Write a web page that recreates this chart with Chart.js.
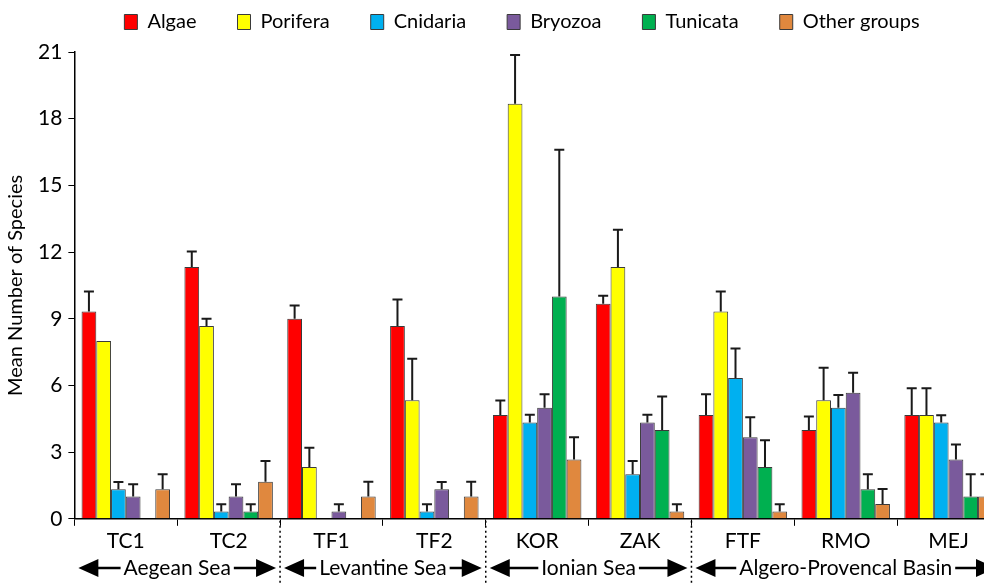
<!DOCTYPE html>
<html>
<head>
<meta charset="utf-8">
<script src="https://cdn.jsdelivr.net/npm/chart.js@4.4.0/dist/chart.umd.min.js"></script>
<style>
  html, body { margin: 0; padding: 0; background: #fff; overflow: hidden; }
  #wrap { width: 1000px; height: 583px; position: relative; }
</style>
</head>
<body>
<div id="wrap"><canvas id="chart"></canvas></div>
<script>
// sites along the x axis
const sites = ['TC1', 'TC2', 'TF1', 'TF2', 'KOR', 'ZAK', 'FTF', 'RMO', 'MEJ'];

// mean number of species per group
const algae    = [9.33, 11.33, 9.0, 8.67, 4.67, 9.67, 4.67, 4.0, 4.67];
const porifera = [8.0, 8.67, 2.33, 5.33, 18.67, 11.33, 9.33, 5.33, 4.67];
const cnidaria = [1.33, 0.33, 0, 0.33, 4.33, 2.0, 6.33, 5.0, 4.33];
const bryozoa  = [1.0, 1.0, 0.33, 1.33, 5.0, 4.33, 3.67, 5.67, 2.67];
const tunicata = [0, 0.33, 0, 0, 10.0, 4.0, 2.33, 1.33, 1.0];
const others   = [1.33, 1.67, 1.0, 1.0, 2.67, 0.33, 0.33, 0.67, 1.0];

// standard errors (upper bars only)
const algaeErr    = [0.9, 0.7, 0.6, 1.2, 0.65, 0.37, 0.93, 0.6, 1.2];
const poriferaErr = [0, 0.33, 0.87, 1.87, 2.2, 1.67, 0.9, 1.47, 1.2];
const cnidariaErr = [0.33, 0.33, 0, 0.33, 0.35, 0.6, 1.33, 0.57, 0.33];
const bryozoaErr  = [0.55, 0.55, 0.33, 0.33, 0.6, 0.35, 0.9, 0.9, 0.67];
const tunicataErr = [0, 0.33, 0, 0, 6.6, 1.5, 1.2, 0.67, 1.0];
const othersErr   = [0.67, 0.93, 0.67, 0.67, 1.0, 0.33, 0.33, 0.67, 1.0];

// y axis ticks
const yTicks = [0, 3, 6, 9, 12, 15, 18, 21];

// sea regions (first and last site index of each)
const regionNames = ['Aegean Sea', 'Levantine Sea', 'Ionian Sea', 'Algero-Provencal Basin'];
const regionFrom  = [0, 2, 4, 6];
const regionTo    = [1, 3, 5, 8];

const FONT = "'Lato', sans-serif";

const groups = [
    { label: 'Algae', data: algae, err: algaeErr, color: '#ff0000' },
    { label: 'Porifera', data: porifera, err: poriferaErr, color: '#ffff00' },
    { label: 'Cnidaria', data: cnidaria, err: cnidariaErr, color: '#00b0f0' },
    { label: 'Bryozoa', data: bryozoa, err: bryozoaErr, color: '#7a5a9c' },
    { label: 'Tunicata', data: tunicata, err: tunicataErr, color: '#00b050' },
    { label: 'Other groups', data: others, err: othersErr, color: '#e0883e' }
];

// upper error bars
const errorBars = {
    id: 'errorBars',
    afterDatasetsDraw(chart) {
        const ctx = chart.ctx;
        const y = chart.scales.y;
        ctx.save();
        ctx.strokeStyle = '#1a1a1a';
        ctx.lineWidth = 2;
        chart.data.datasets.forEach((ds, i) => {
            const meta = chart.getDatasetMeta(i);
            meta.data.forEach((bar, j) => {
                const e = ds.err[j];
                if (!e) return;
                const top = y.getPixelForValue(ds.data[j] + e);
                ctx.beginPath();
                ctx.moveTo(bar.x, bar.y);
                ctx.lineTo(bar.x, top);
                ctx.moveTo(bar.x - 5, top);
                ctx.lineTo(bar.x + 5, top);
                ctx.stroke();
            });
        });
        ctx.restore();
    }
};

// region labels with arrows and dotted separators
const regions = {
    id: 'regions',
    afterDraw(chart) {
        const ctx = chart.ctx;
        const x = chart.scales.x;
        const half = (x.getPixelForValue(1) - x.getPixelForValue(0)) / 2;
        const yBase = chart.chartArea.bottom;
        const yText = 568;
        ctx.save();
        ctx.font = '21px ' + FONT;
        ctx.textAlign = 'center';
        ctx.textBaseline = 'middle';
        ctx.fillStyle = '#000';
        ctx.strokeStyle = '#000';

        // dotted separators
        ctx.lineWidth = 1.5;
        ctx.setLineDash([2, 3]);
        for (let r = 1; r < regionNames.length; r++) {
            const sx = x.getPixelForValue(regionFrom[r]) - half;
            ctx.beginPath();
            ctx.moveTo(sx, yBase + 2);
            ctx.lineTo(sx, chart.height);
            ctx.stroke();
        }
        ctx.setLineDash([]);

        regionNames.forEach((name, r) => {
            const left = x.getPixelForValue(regionFrom[r]) - half + 4;
            const right = x.getPixelForValue(regionTo[r]) + half - 4;
            const cx = (left + right) / 2;
            const w = ctx.measureText(name).width;
            ctx.fillText(name, cx, yText);
            ctx.lineWidth = 2.5;
            ctx.beginPath();
            ctx.moveTo(left + 10, yText);
            ctx.lineTo(cx - w / 2 - 3, yText);
            ctx.moveTo(cx + w / 2 + 3, yText);
            ctx.lineTo(right - 10, yText);
            ctx.stroke();
            // arrow heads
            ctx.beginPath();
            ctx.moveTo(left, yText);
            ctx.lineTo(left + 20, yText - 9);
            ctx.lineTo(left + 20, yText + 9);
            ctx.closePath();
            ctx.moveTo(right, yText);
            ctx.lineTo(right - 20, yText - 9);
            ctx.lineTo(right - 20, yText + 9);
            ctx.closePath();
            ctx.fill();
        });
        ctx.restore();
    }
};

// nudge the legend, as in the original figure
const legendShift = {
    id: 'legendShift',
    afterLayout(chart) {
        const lg = chart.legend;
        lg.left += 22;
        lg.right += 22;
        lg.top -= 10;
        lg.bottom -= 10;
    }
};

new Chart(document.getElementById('chart'), {
    type: 'bar',
    data: {
        labels: sites,
        datasets: groups.map(g => ({
            label: g.label,
            data: g.data,
            err: g.err,
            backgroundColor: g.color,
            borderColor: '#3a3a3a',
            borderWidth: 1,
            categoryPercentage: 0.86,
            barPercentage: 1.0
        }))
    },
    options: {
        responsive: true,
        maintainAspectRatio: false,
        animation: false,
        layout: { padding: { left: 0, right: 0, top: -19, bottom: 26 } },
        plugins: {
            legend: {
                position: 'top',
                labels: {
                    color: '#000',
                    font: { family: FONT, size: 20 },
                    boxWidth: 13,
                    boxHeight: 15,
                    padding: 41
                }
            },
            tooltip: { enabled: false }
        },
        scales: {
            x: {
                offset: true,
                grid: { drawOnChartArea: false, tickLength: 7, color: '#000', offset: true },
                border: { color: '#000', width: 1.5 },
                ticks: { color: '#000', font: { family: FONT, size: 21 }, padding: 3 }
            },
            y: {
                min: 0,
                max: 21,
                afterBuildTicks: axis => { axis.ticks = yTicks.map(v => ({ value: v })); },
                grid: { drawOnChartArea: false, tickLength: 6, color: '#000' },
                border: { color: '#000', width: 1.5 },
                ticks: { color: '#000', font: { family: FONT, size: 21 }, padding: 6 },
                title: {
                    display: true,
                    text: 'Mean Number of Species',
                    color: '#000',
                    font: { family: FONT, size: 20 },
                    padding: 4
                }
            }
        }
    },
    plugins: [errorBars, regions, legendShift]
});
</script>
</body>
</html>
